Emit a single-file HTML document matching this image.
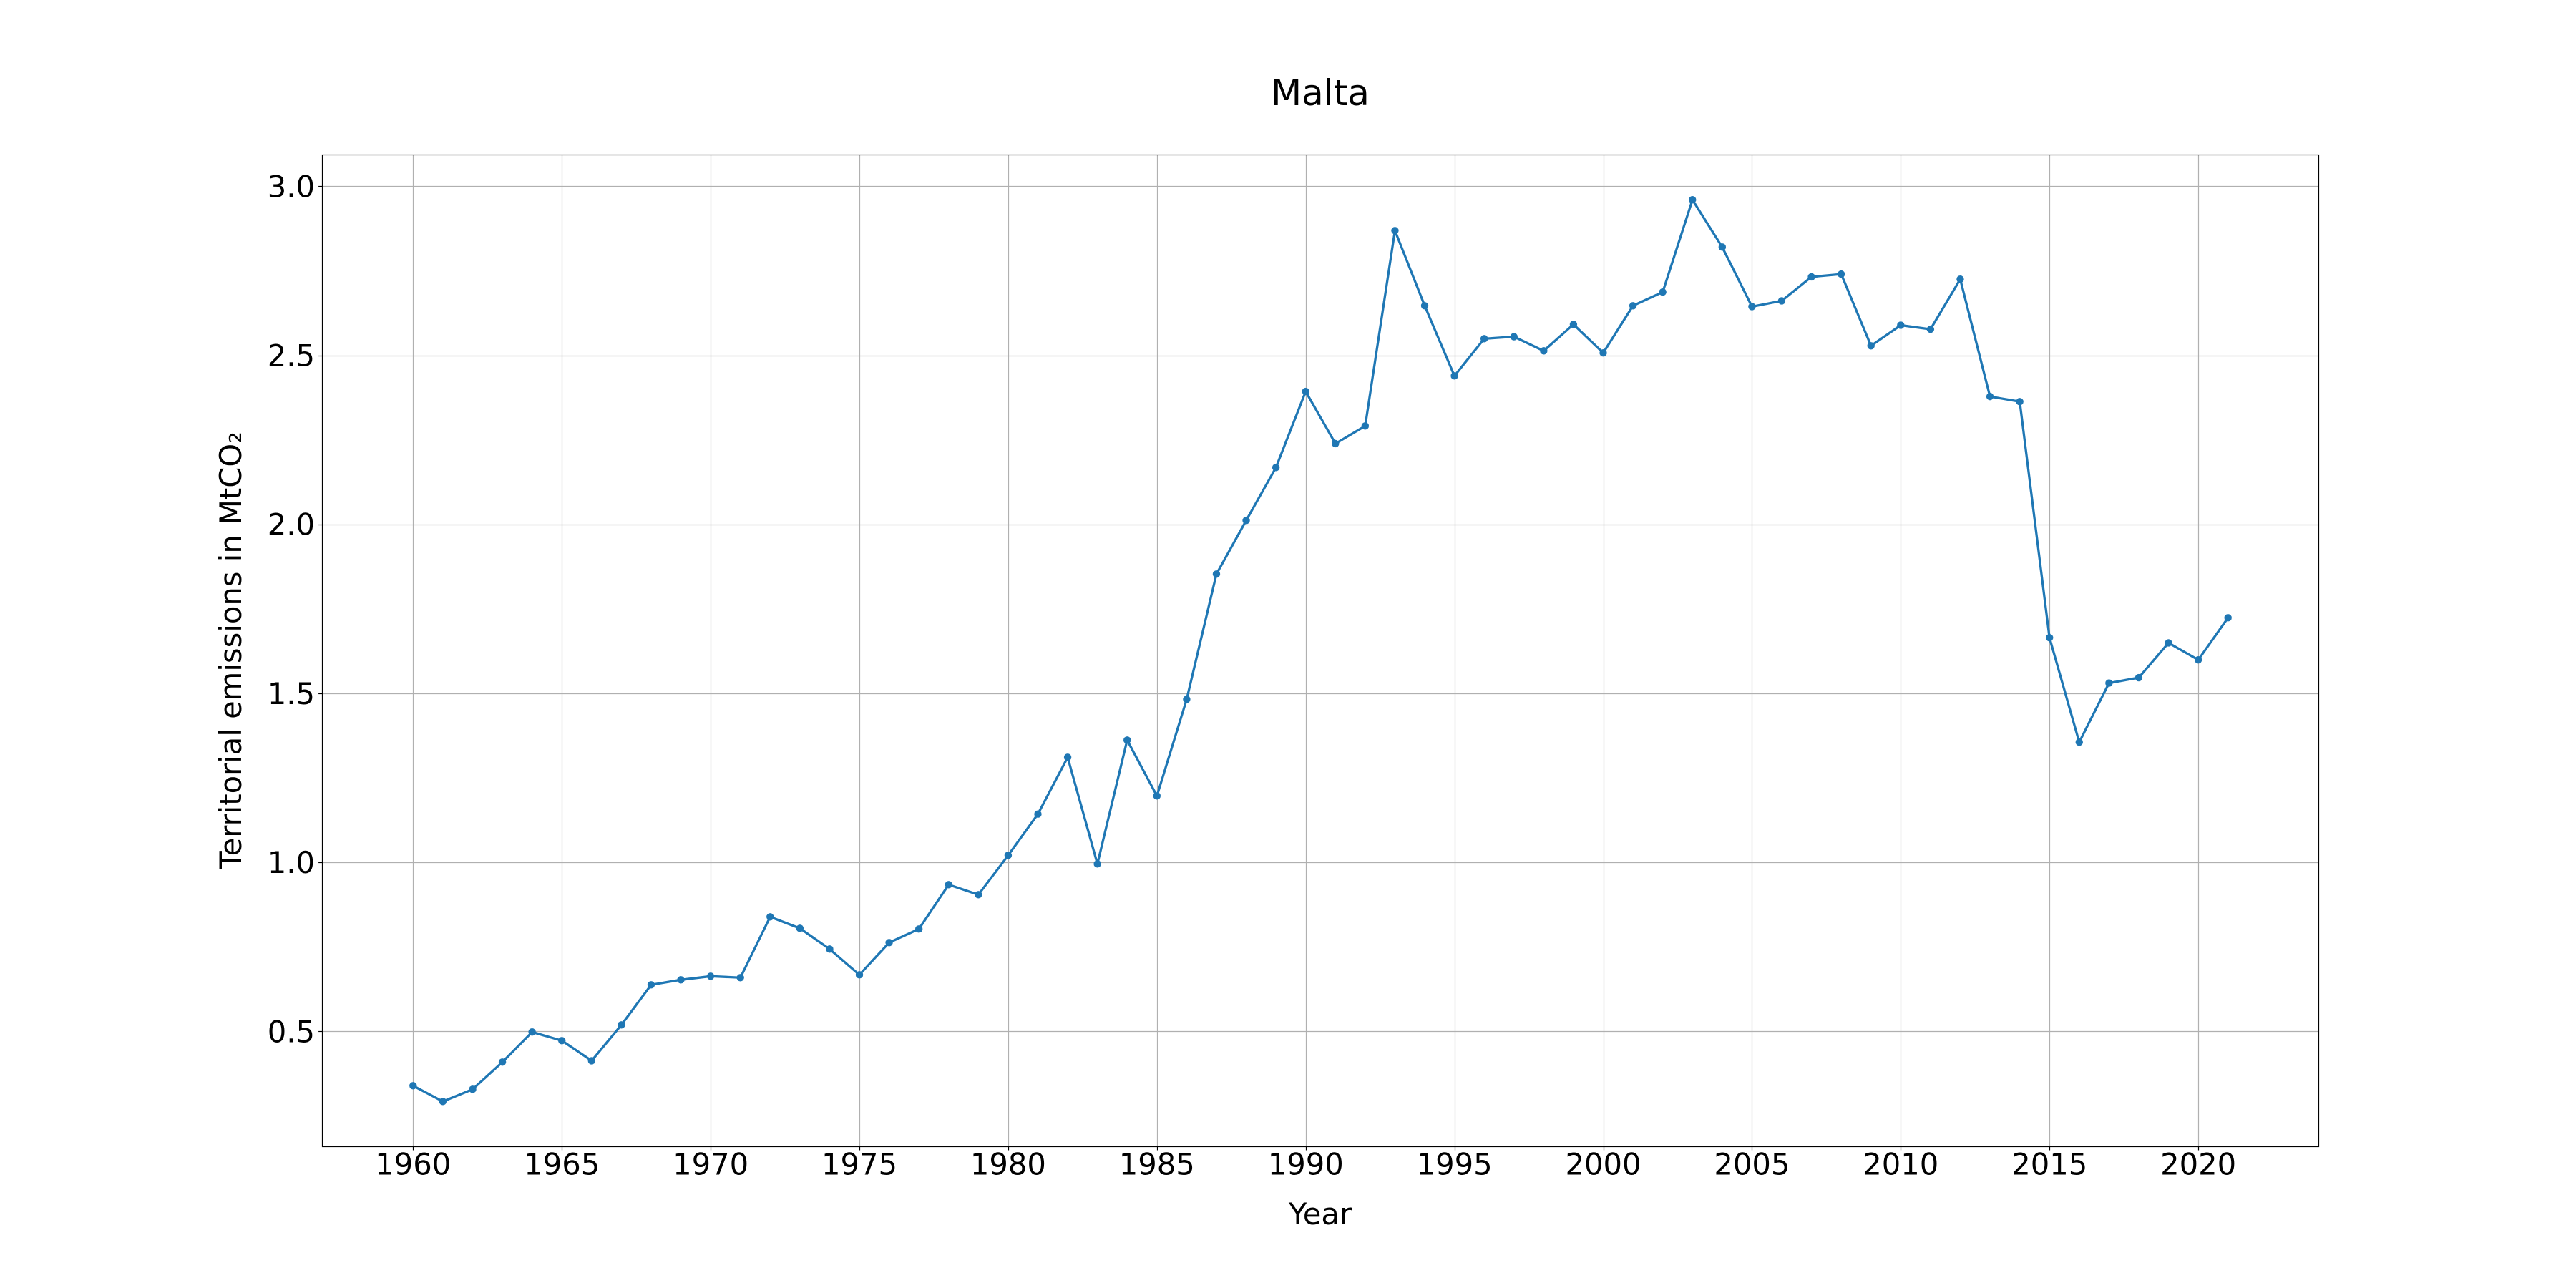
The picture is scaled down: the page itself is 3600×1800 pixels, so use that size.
<!DOCTYPE html>
<html lang="en">
<head>
<meta charset="utf-8">
<title>Malta territorial emissions</title>
<style>
html,body{margin:0;padding:0;background:#fff;width:3600px;height:1800px;overflow:hidden}
svg{display:block}
text{font-family:"DejaVu Sans","Liberation Sans",sans-serif;fill:#000}
</style>
</head>
<body>
<svg id="chart" xmlns="http://www.w3.org/2000/svg" width="3600" height="1800" viewBox="0 0 3600 1800">
  <rect x="0" y="0" width="3600" height="1800" fill="#ffffff"/>
  <g id="grid"></g>
  <g id="series"></g>
  <rect x="450.5" y="216.5" width="2790" height="1386" fill="none" stroke="#000" stroke-width="1.2"/>
  <g id="ticks"></g>
  <text x="1845" y="147" font-size="50" text-anchor="middle">Malta</text>
  <text x="1845" y="1711" font-size="41.67" text-anchor="middle">Year</text>
  <text transform="translate(337 909) rotate(-90)" font-size="41.67" text-anchor="middle">Territorial emissions in MtCO₂</text>
</svg>
<script>
const years = [1960,1961,1962,1963,1964,1965,1966,1967,1968,1969,1970,1971,1972,1973,1974,1975,1976,1977,1978,1979,1980,1981,1982,1983,1984,1985,1986,1987,1988,1989,1990,1991,1992,1993,1994,1995,1996,1997,1998,1999,2000,2001,2002,2003,2004,2005,2006,2007,2008,2009,2010,2011,2012,2013,2014,2015,2016,2017,2018,2019,2020,2021];
const emissions = [0.339,0.2925,0.3285,0.409,0.498,0.4725,0.413,0.519,0.6376,0.6524,0.663,0.6588,0.8387,0.8048,0.7434,0.6672,0.7625,0.8027,0.934,0.9043,1.0207,1.1427,1.3107,0.9953,1.3615,1.1964,1.4822,1.8527,2.0114,2.168,2.393,2.2386,2.2908,2.8688,2.6465,2.439,2.549,2.555,2.513,2.5914,2.507,2.6465,2.687,2.96,2.82,2.644,2.661,2.732,2.74,2.528,2.589,2.577,2.725,2.378,2.3628,1.6645,1.3554,1.5303,1.5463,1.6492,1.5989,1.7235];
const xTicks = [1960,1965,1970,1975,1980,1985,1990,1995,2000,2005,2010,2015,2020];
const yTicks = [0.5,1.0,1.5,2.0,2.5,3.0];
const yTickLabels = ["0.5","1.0","1.5","2.0","2.5","3.0"];

const NS = 'http://www.w3.org/2000/svg';
function xScale(v){ return 450.5 + (v - 1956.95) * 2790 / 67.1; }
function yScale(v){ return 1441.3 - (v - 0.5) * 472.4; }
function snap(p){ return Math.floor(p + 0.5) + 0.5; }
function make(tag, attrs, parent){
  const el = document.createElementNS(NS, tag);
  for (const k in attrs) el.setAttribute(k, attrs[k]);
  parent.appendChild(el);
  return el;
}
const gridG = document.getElementById('grid');
const ticksG = document.getElementById('ticks');
const seriesG = document.getElementById('series');

xTicks.forEach(function(t){
  const x = snap(xScale(t));
  const g = make('line', {x1:x, x2:x, y1:216.5, y2:1602.5, stroke:'#b0b0b0', 'stroke-width':1.2}, gridG);
  
  
  const m = make('line', {x1:x, x2:x, y1:1602.5, y2:1607.5, stroke:'#000', 'stroke-width':1.2}, ticksG);
  
  
  const l = make('text', {x:xScale(t), y:1641.5, 'font-size':41.67, 'text-anchor':'middle'}, ticksG);
  l.textContent = String(t);
  
  
});

yTicks.forEach(function(t, i){
  const y = snap(yScale(t));
  const g = make('line', {x1:450.5, x2:3240.5, y1:y, y2:y, stroke:'#b0b0b0', 'stroke-width':1.2}, gridG);
  
  
  const m = make('line', {x1:445.1, x2:450.5, y1:y, y2:y, stroke:'#000', 'stroke-width':1.2}, ticksG);
  
  
  const l = make('text', {x:440, y:yScale(t) + 15, 'font-size':41.67, 'text-anchor':'end'}, ticksG);
  l.textContent = yTickLabels[i];
  
  
});

const pts = years.map(function(y, i){ return xScale(y).toFixed(2) + ',' + yScale(emissions[i]).toFixed(2); }).join(' ');
const line = make('polyline', {points:pts, fill:'none', stroke:'#1f77b4', 'stroke-width':3.3, 'stroke-linejoin':'round'}, seriesG);



years.forEach(function(y, i){
  const c = make('circle', {cx:xScale(y), cy:yScale(emissions[i]), r:5.2, fill:'#1f77b4'}, seriesG);
  
  
});
</script>
</body>
</html>
